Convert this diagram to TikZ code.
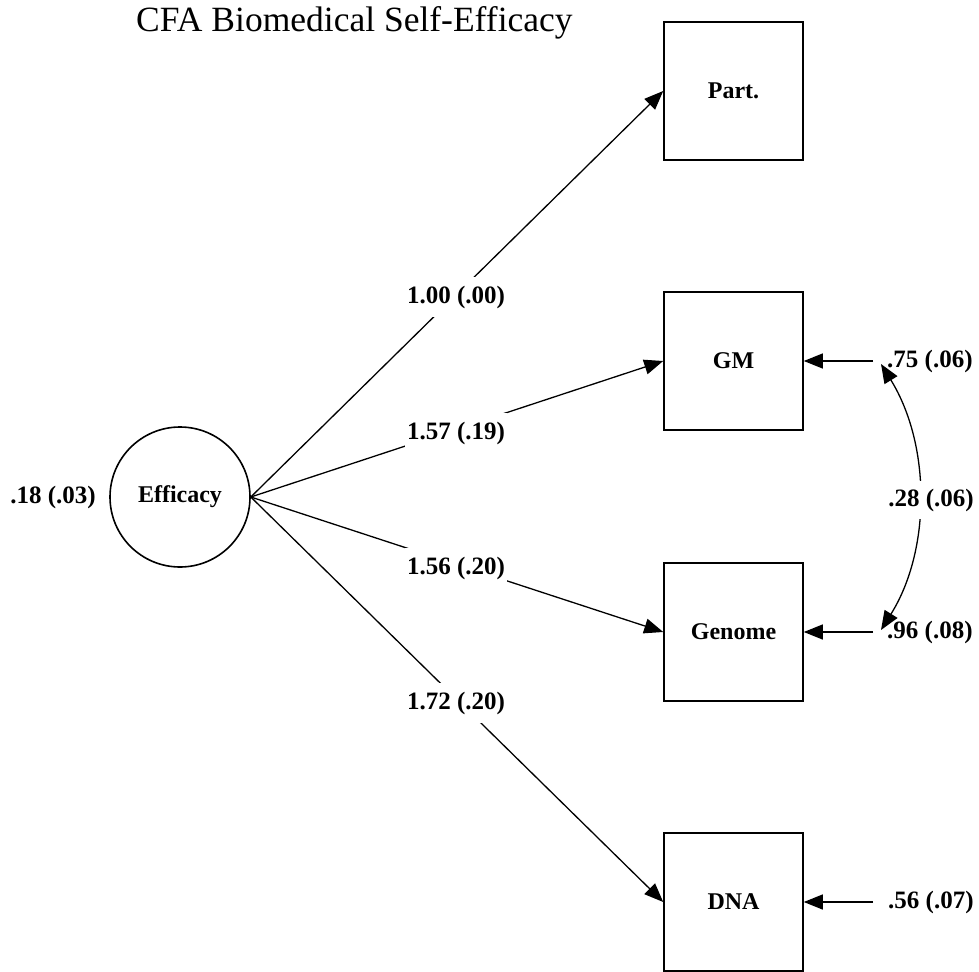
\documentclass[tikz,border=0pt]{standalone}
\usepackage{fontspec}
\setmainfont{Liberation Serif}
\usetikzlibrary{arrows.meta}
\begin{document}
\begin{tikzpicture}[x=1pt,y=-1pt,
  conn/.style={line width=1.3pt,-{Triangle[length=19pt,width=15pt]}},
  dconn/.style={line width=1.3pt,{Triangle[length=19pt,width=15pt]}-{Triangle[length=19pt,width=15pt]}},
  obsbox/.style={draw,line width=1.6pt,minimum width=139pt,minimum height=138pt,inner sep=0pt,font=\fontsize{24}{27}\selectfont\bfseries},
  latent/.style={draw,circle,line width=1.6pt,minimum size=140pt,inner sep=0pt,font=\fontsize{24}{27}\selectfont\bfseries},
  lab/.style={font=\fontsize{25}{28}\selectfont\bfseries,inner sep=0pt},
  elab/.style={font=\fontsize{25}{28}\selectfont\bfseries,fill=white,inner xsep=2pt,inner ysep=9pt}]
\useasboundingbox (0,0) rectangle (979,971);
\node[anchor=west,font=\fontsize{35.5}{40}\selectfont,inner sep=0pt] (title) at (136,23) {CFA Biomedical Self-Efficacy};
\node[latent] (eff) at (180,497) {Efficacy};
\node[lab] (effvar) at (53,497) {.18 (.03)};
\node[obsbox] (part) at (733.5,91) {Part.};
\node[obsbox] (gm) at (733.5,361) {GM};
\node[obsbox] (genome) at (733.5,632) {Genome};
\node[obsbox] (dna) at (733.5,902) {DNA};
\coordinate (src) at (eff.east);
\draw[conn] (src) -- (part.west);
\draw[conn] (src) -- (gm.west);
\draw[conn] (src) -- (genome.west);
\draw[conn] (src) -- (dna.west);
\node[elab] (l1) at (456,297) {1.00 (.00)};
\node[elab] (l2) at (456,433) {1.57 (.19)};
\node[elab] (l3) at (456,568) {1.56 (.20)};
\node[elab] (l4) at (456,703) {1.72 (.20)};
\node[lab,anchor=west] (egm) at (887,361) {.75 (.06)};
\node[lab,anchor=west] (egenome) at (887,632) {.96 (.08)};
\node[lab,anchor=west] (edna) at (888,902) {.56 (.07)};
\coordinate (gmsrc) at (873,361);
\coordinate (genomesrc) at (873,632);
\coordinate (dnasrc) at (873,902);
\draw[conn] (gmsrc) -- (gm.east);
\draw[conn] (genomesrc) -- (genome.east);
\draw[conn] (dnasrc) -- (dna.east);
\coordinate (c1) at (881,364);
\coordinate (c2) at (881,630);
\draw[dconn] (c1) .. controls (931,445) and (931,550) .. (c2);
\node[elab,inner ysep=8pt] (cov) at (931,500) {.28 (.06)};
\end{tikzpicture}
\end{document}
